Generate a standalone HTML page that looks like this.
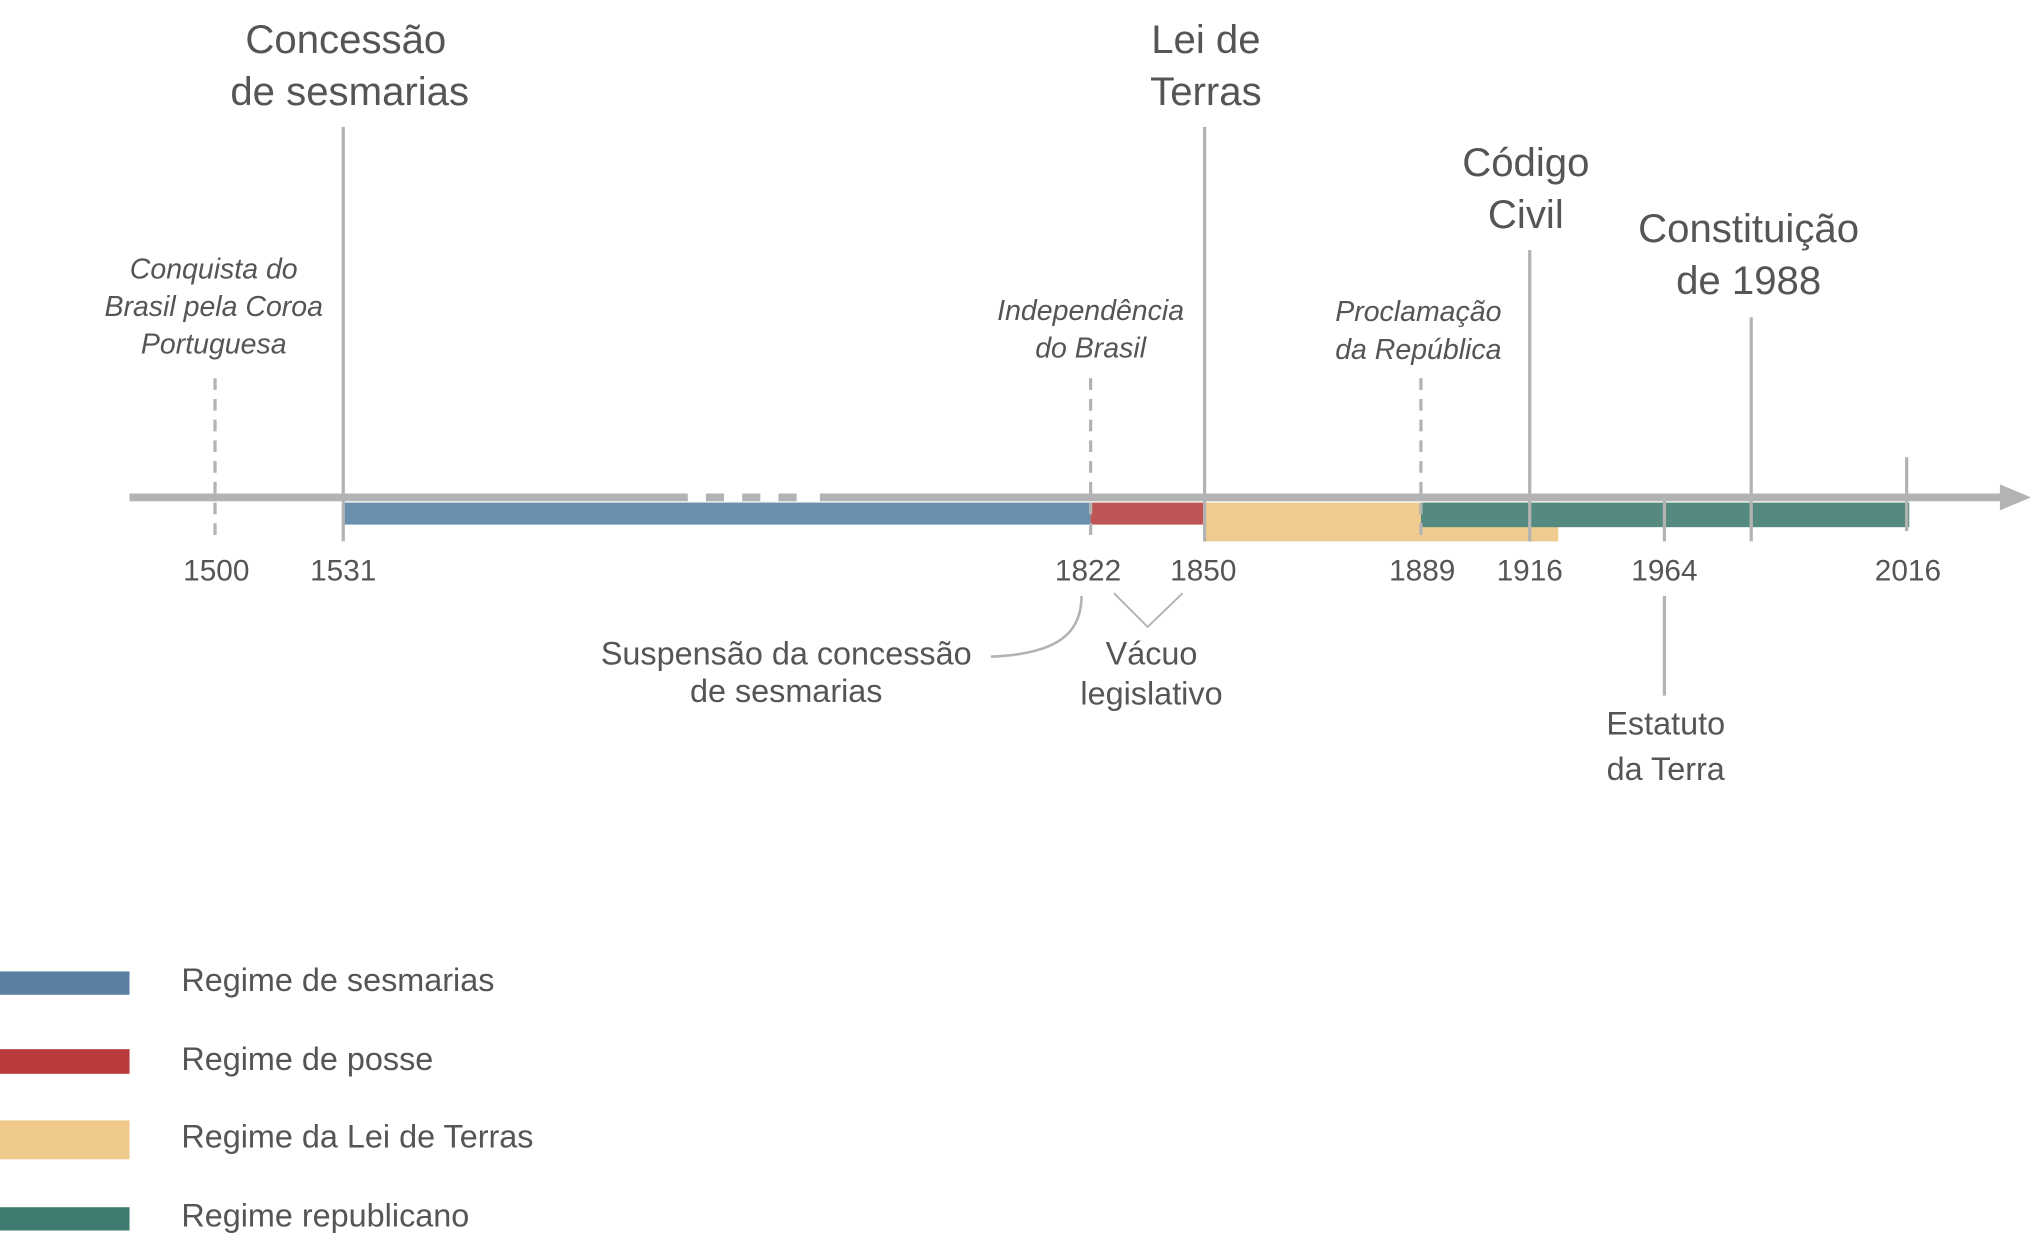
<!DOCTYPE html>
<html><head><meta charset="utf-8"><style>
html,body{margin:0;padding:0;background:#fff;}
svg{display:block;}
text{font-family:"Liberation Sans",sans-serif;fill:#555;}
.t{font-size:31px;text-anchor:middle;}
.y{font-size:23px;text-anchor:middle;}
.i{font-size:22px;text-anchor:middle;font-style:italic;}
.m{font-size:25px;text-anchor:middle;}
.l{font-size:25px;}
</style></head><body>
<svg width="2031" height="1248" viewBox="0 0 1568 963.5" xmlns="http://www.w3.org/2000/svg">
<!-- bars -->
<rect x="265" y="388" width="577" height="17" fill="#6b8fae"/>
<rect x="842" y="388" width="88" height="17" fill="#c05555"/>
<rect x="930" y="388" width="273" height="30" fill="#efcb8f"/>
<rect x="1097" y="388" width="377" height="19" fill="#558a80"/>
<!-- axis -->
<rect x="100" y="381" width="1448" height="6" fill="#b3b3b3"/>
<polygon points="1544,374 1568,384 1544,394" fill="#b3b3b3"/>
<rect x="531" y="378" width="102" height="9" fill="#fff"/>
<rect x="545" y="381" width="14" height="6" fill="#b3b3b3"/>
<rect x="573" y="381" width="14" height="6" fill="#b3b3b3"/>
<rect x="601" y="381" width="14" height="6" fill="#b3b3b3"/>
<!-- vertical lines -->
<g stroke="#b3b3b3" stroke-width="2.5" fill="none">
<line x1="265" y1="98" x2="265" y2="418"/>
<line x1="930" y1="98" x2="930" y2="418"/>
<line x1="1181" y1="193" x2="1181" y2="418"/>
<line x1="1352" y1="245" x2="1352" y2="418"/>
<line x1="1472" y1="353" x2="1472" y2="410"/>
<line x1="1285" y1="385" x2="1285" y2="418"/>
<line x1="1285" y1="460" x2="1285" y2="537"/>
<g stroke-dasharray="9,7">
<line x1="166" y1="292" x2="166" y2="418"/>
<line x1="842" y1="292" x2="842" y2="418"/>
<line x1="1097" y1="292" x2="1097" y2="418"/>
</g>
<path d="M765,507 C815,505 835,490 835,460" stroke-width="2"/>
<path d="M860,458 L886,484 L913,458" stroke-width="1.5"/>
</g>
<!-- titles -->
<text class="t" x="267" y="41">Concessão</text>
<text class="t" x="270" y="81">de sesmarias</text>
<text class="t" x="931" y="41">Lei de</text>
<text class="t" x="931" y="81">Terras</text>
<text class="t" x="1178" y="136">Código</text>
<text class="t" x="1178" y="176">Civil</text>
<text class="t" x="1350" y="187">Constituição</text>
<text class="t" x="1350" y="227">de 1988</text>
<text class="i" x="165" y="215">Conquista do</text>
<text class="i" x="165" y="244">Brasil pela Coroa</text>
<text class="i" x="165" y="273">Portuguesa</text>
<text class="i" x="842" y="247">Independência</text>
<text class="i" x="842" y="276">do Brasil</text>
<text class="i" x="1095" y="248">Proclamação</text>
<text class="i" x="1095" y="277">da República</text>
<!-- years -->
<text class="y" x="167" y="448">1500</text>
<text class="y" x="265" y="448">1531</text>
<text class="y" x="840" y="448">1822</text>
<text class="y" x="929" y="448">1850</text>
<text class="y" x="1098" y="448">1889</text>
<text class="y" x="1181" y="448">1916</text>
<text class="y" x="1285" y="448">1964</text>
<text class="y" x="1473" y="448">2016</text>
<text class="m" x="607" y="513">Suspensão da concessão</text>
<text class="m" x="607" y="542">de sesmarias</text>
<text class="m" x="889" y="513">Vácuo</text>
<text class="m" x="889" y="544">legislativo</text>
<text class="m" x="1286" y="567">Estatuto</text>
<text class="m" x="1286" y="602">da Terra</text>
<!-- legend -->
<rect x="0" y="750" width="100" height="18" fill="#5b80a3"/>
<rect x="0" y="810" width="100" height="19" fill="#b83a3a"/>
<rect x="0" y="865" width="100" height="30" fill="#eec98a"/>
<rect x="0" y="932" width="100" height="18" fill="#3f7b70"/>
<text class="l" x="140" y="765">Regime de sesmarias</text>
<text class="l" x="140" y="826">Regime de posse</text>
<text class="l" x="140" y="886">Regime da Lei de Terras</text>
<text class="l" x="140" y="947">Regime republicano</text>
</svg>
</body></html>
